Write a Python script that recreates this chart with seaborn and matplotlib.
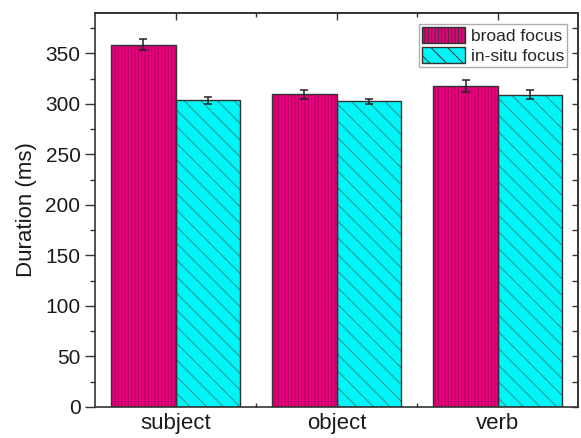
import matplotlib
matplotlib.use('Agg')
import matplotlib.pyplot as plt
from matplotlib.patches import Rectangle
from matplotlib.ticker import MultipleLocator, FixedLocator
import pandas as pd
import seaborn as sns

# values
positions = ['subject', 'object', 'verb']
conditions = ['broad focus', 'in-situ focus']
broad_focus = [358.5, 309.5, 318.0]
broad_err = [5.3, 4.5, 5.8]
insitu_focus = [303.5, 302.5, 309.0]
insitu_err = [3.3, 2.7, 4.3]

face_colors = ['#ea007f', '#00f6f6']
hatch_colors = ['#a8005c', '#2a8c8c']
hatches = ['|||||', '\\\\']
edge = '#333333'


def main():
    df = pd.DataFrame({
        'position': positions * 2,
        'condition': [conditions[0]] * 3 + [conditions[1]] * 3,
        'duration': broad_focus + insitu_focus,
    })

    sns.set_style('ticks')
    plt.rcParams['font.family'] = ['Liberation Sans', 'DejaVu Sans']
    plt.rcParams['hatch.linewidth'] = 0.7

    fig = plt.figure(figsize=(5.81, 4.38), dpi=100)
    ax = fig.add_axes([0.1635, 0.0708, 0.832, 0.8995])
    sns.barplot(data=df, x='position', y='duration', hue='condition',
                palette=face_colors, saturation=1, errorbar=None,
                ax=ax, legend=False)

    # bars sorted left to right: broad, in-situ, broad, in-situ ...
    bars = sorted([p for p in ax.patches if p.get_height() > 0],
                  key=lambda p: p.get_x())
    groups = [bars[0::2], bars[1::2]]
    errs = [broad_err, insitu_err]
    vals = [broad_focus, insitu_focus]
    for i, group in enumerate(groups):
        xs = []
        for bar in group:
            bar.set_hatch(hatches[i])
            bar.set_edgecolor(hatch_colors[i])
            bar.set_linewidth(0)
            ax.add_patch(Rectangle(bar.get_xy(), bar.get_width(),
                                   bar.get_height(), fill=False,
                                   edgecolor=edge, linewidth=1.0, zorder=3))
            xs.append(bar.get_x() + bar.get_width() / 2)
        ax.errorbar(xs, vals[i], yerr=errs[i], fmt='none', ecolor='#222222',
                    elinewidth=1.1, capsize=2.6, capthick=1.1, zorder=4)

    ax.set_xlim(-0.5, 2.5)
    ax.set_ylim(0, 390)
    ax.yaxis.set_major_locator(MultipleLocator(50))
    ax.yaxis.set_minor_locator(MultipleLocator(25))
    ax.xaxis.set_minor_locator(FixedLocator([0.5, 1.5]))

    ax.tick_params(axis='y', which='major', direction='out', length=7,
                   width=1, color=edge, labelsize=15, labelcolor='#1a1a1a')
    ax.tick_params(axis='y', which='minor', direction='out', length=3.5,
                   width=1, color=edge)
    ax.tick_params(axis='x', which='major', length=0, pad=4, labelsize=16,
                   labelcolor='#1a1a1a')
    ax.tick_params(axis='x', which='minor', direction='in', length=3,
                   width=1, color=edge)

    # right and top axes have their own inward ticks
    right = ax.secondary_yaxis('right')
    right.yaxis.set_major_locator(MultipleLocator(25))
    right.tick_params(direction='in', length=4, width=1, color=edge,
                      labelright=False)
    top = ax.secondary_xaxis('top')
    top.xaxis.set_major_locator(FixedLocator([0, 1, 2]))
    top.xaxis.set_minor_locator(FixedLocator([0.5, 1.5]))
    top.tick_params(which='major', direction='in', length=5, width=1,
                    color=edge, labeltop=False)
    top.tick_params(which='minor', direction='in', length=3, width=1,
                    color=edge)

    for sp in list(ax.spines.values()) + [right.spines['right'],
                                          top.spines['top']]:
        sp.set_color(edge)
        sp.set_linewidth(1.2)

    ax.set_xlabel('')
    ax.set_ylabel('Duration (ms)', fontsize=16, color='#1a1a1a',
                  labelpad=6)

    leg = ax.legend([groups[0][0], groups[1][0]], conditions,
                    loc='upper right', bbox_to_anchor=(0.977, 0.972),
                    fontsize=12.5, frameon=True, fancybox=False,
                    borderpad=0.15, labelspacing=0.2, handlelength=2.5,
                    handleheight=1.05, handletextpad=0.35, borderaxespad=0)
    leg.get_frame().set_edgecolor('#999999')
    leg.get_frame().set_linewidth(1.0)
    for h in leg.legend_handles:
        h.set_linewidth(1.0)
        h.set_edgecolor(edge)

    fig.savefig('out.png', dpi=100)


if __name__ == '__main__':
    main()
